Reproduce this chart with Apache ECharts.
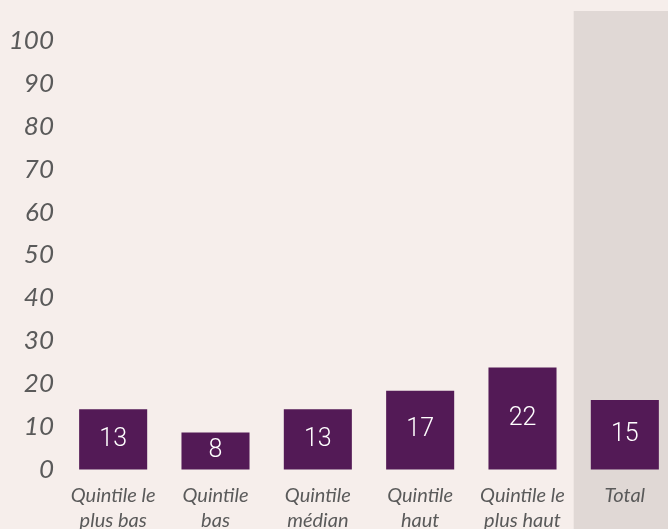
<!DOCTYPE html>
<html><head><meta charset="utf-8">
<script src="https://cdn.jsdelivr.net/npm/echarts@6/dist/echarts.min.js"></script>
<style>html,body{margin:0;padding:0;background:#f6eeeb;}#c{width:668px;height:529px;}</style>
</head><body><div id="c"></div>
<script>
var categories = ['Quintile le\nplus bas', 'Quintile\nbas', 'Quintile\nmédian', 'Quintile\nhaut', 'Quintile le\nplus haut', 'Total'];
var values = [13, 8, 13, 17, 22, 15];
var highlight = [null, null, null, null, null, 1];
var yTicks = [0, 10, 20, 30, 40, 50, 60, 70, 80, 90, 100];

var chart = echarts.init(document.getElementById('c'), null, {renderer: 'canvas'});
chart.setOption({
  backgroundColor: '#f6eeeb',
  animation: false,
  grid: [
    {left: 62, width: 614, top: 40.7, bottom: 59.5, outerBoundsMode: 'none', containLabel: false},
    {left: 62, width: 614, top: 11, bottom: 0, outerBoundsMode: 'none', containLabel: false}
  ],
  xAxis: [
    {type: 'category', gridIndex: 0, data: categories,
     axisLine: {show: false}, axisTick: {show: false},
     axisLabel: {interval: 0, margin: 14, fontFamily: 'Lato', fontStyle: 'italic', fontSize: 20, lineHeight: 25, color: '#5a5a5a'}},
    {type: 'category', gridIndex: 1, data: categories, show: false}
  ],
  yAxis: [
    {type: 'value', gridIndex: 0, min: yTicks[0], max: yTicks[yTicks.length - 1], interval: 10,
     splitLine: {show: false}, axisLine: {show: false}, axisTick: {show: false},
     axisLabel: {margin: 8, fontFamily: 'Lato', fontStyle: 'italic', fontSize: 26, color: '#5a5a5a'}},
    {type: 'value', gridIndex: 0, min: 0, max: 92.5, show: false},
    {type: 'value', gridIndex: 1, min: 0, max: 1, show: false}
  ],
  series: [
    {type: 'bar', xAxisIndex: 1, yAxisIndex: 2, data: highlight, barWidth: '100%', z: 0,
     itemStyle: {color: '#e0d8d5'}, silent: true},
    {type: 'bar', xAxisIndex: 0, yAxisIndex: 1, data: values, barWidth: '66.5%', z: 2,
     itemStyle: {color: '#531a56'},
     label: {show: true, position: 'inside', color: '#ffffff', fontFamily: 'Roboto', fontWeight: 300, fontSize: 25}}
  ]
});
</script>
</body></html>
